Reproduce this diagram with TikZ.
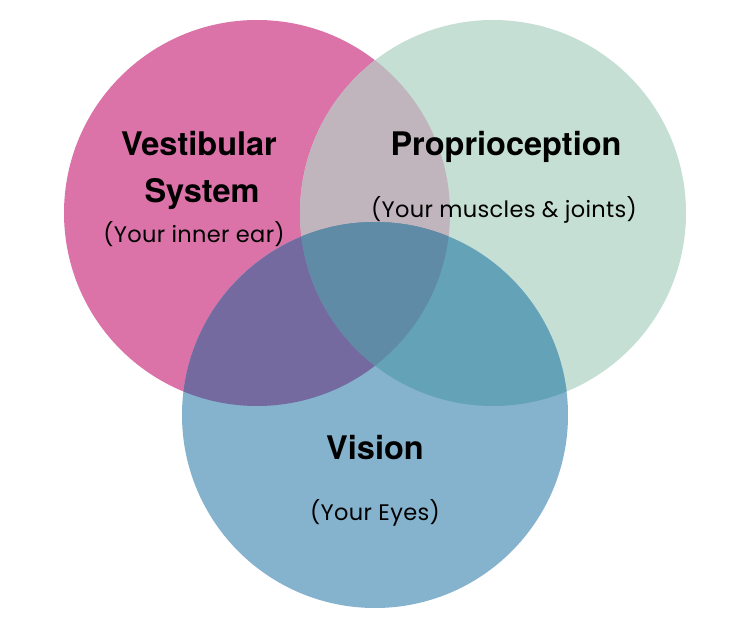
\documentclass[tikz,border=0pt]{standalone}
\usepackage{fontspec}
\usepackage{xcolor}
\setmainfont{TeX Gyre Heros}
\newfontfamily\subfont[LetterSpace=1.5]{Poppins}
\usetikzlibrary{positioning}

\definecolor{vesCol}{HTML}{DB72A8}
\definecolor{proCol}{HTML}{C5DFD5}
\definecolor{visCol}{HTML}{85B3CE}
\definecolor{vesproCol}{HTML}{C0B5BD}
\definecolor{vesvisCol}{HTML}{746A9F}
\definecolor{provisCol}{HTML}{64A3B7}
\definecolor{allCol}{HTML}{608BA6}

\begin{document}
\begin{tikzpicture}[
    x=1pt, y=-1pt,
    title/.style={anchor=base, font=\fontsize{32.5}{38}\selectfont\bfseries},
    sub/.style={anchor=base, font=\fontsize{22.5}{26}\selectfont\subfont}
]
    \useasboundingbox (0,0) rectangle (750,629);

    % Kreise
    \coordinate (ves) at (257,213);
    \coordinate (pro) at (493,213);
    \coordinate (vis) at (375,415);
    \def\rad{193pt}

    \fill[vesCol] (ves) circle (\rad);
    \fill[proCol] (pro) circle (\rad);
    \fill[visCol] (vis) circle (\rad);

    % Schnittmengen
    \begin{scope}
        \clip (ves) circle (\rad);
        \fill[vesproCol] (pro) circle (\rad);
        \fill[vesvisCol] (vis) circle (\rad);
    \end{scope}
    \begin{scope}
        \clip (pro) circle (\rad);
        \fill[provisCol] (vis) circle (\rad);
        \clip (ves) circle (\rad);
        \fill[allCol] (vis) circle (\rad);
    \end{scope}

    % Texte
    \node[title] (vesA) at (199,155) {Vestibular};
    \node[title] (vesB) at (202,202) {System};
    \node[sub] (vesC) at (194,242) {(Your inner ear)};

    \node[title] (proA) at (506,155) {Proprioception};
    \node[sub] (proB) at (504,217) {(Your muscles \& joints)};

    \node[title] (visA) at (375,459) {Vision};
    \node[sub] (visB) at (375,520) {(Your Eyes)};
\end{tikzpicture}
\end{document}
